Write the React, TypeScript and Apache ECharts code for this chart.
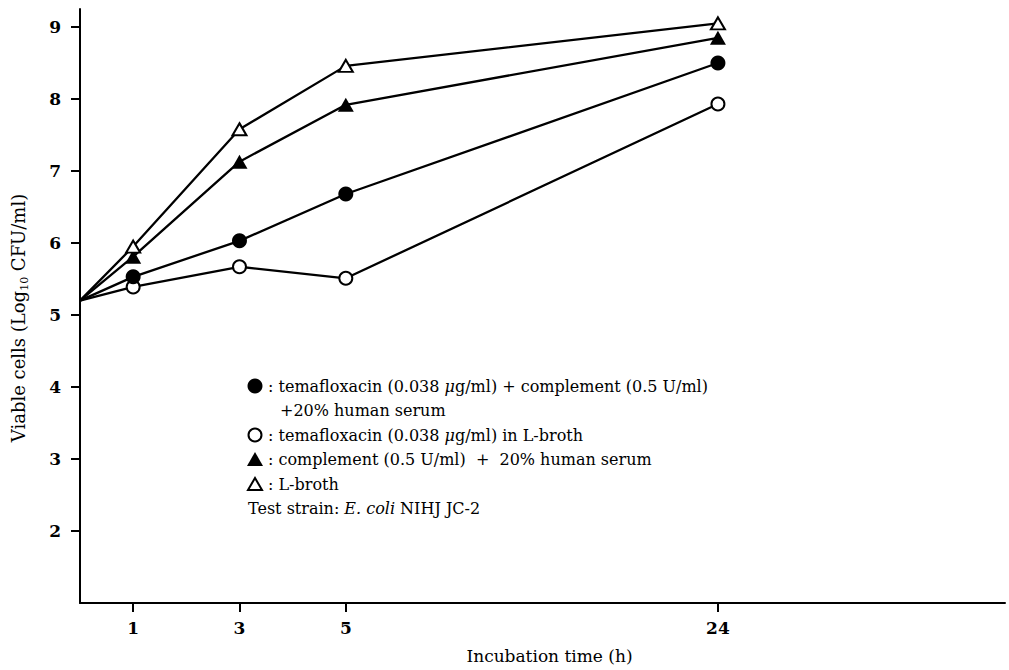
import React, { useEffect, useRef } from "react";
import * as echarts from "echarts";

// Sampling times (h) and viable-cell counts (log10 CFU/ml)
const hours = [0, 1, 3, 5, 24];
const temaComplement = [5.2, 5.53, 6.03, 6.68, 8.5];
const temaBroth = [5.2, 5.39, 5.67, 5.51, 7.93];
const complementSerum = [5.2, 5.81, 7.13, 7.92, 8.85];
const lBroth = [5.2, 5.95, 7.58, 8.46, 9.05];

const xTickHours = [1, 3, 5, 24];
const yTicks = [2, 3, 4, 5, 6, 7, 8, 9];

// broken time scale: 0–5 h linear, beyond 5 h compressed
const BREAK_AT = 5;
const COMPRESS = 7 / 19;
const toPos = (h: number) => (h <= BREAK_AT ? h : BREAK_AT + (h - BREAK_AT) * COMPRESS);
const fromPos = (p: number) => {
  const f = xTickHours.find((h) => Math.abs(toPos(h) - p) < 1e-6);
  return f === undefined ? "" : String(f);
};

const FONT = "DejaVu Serif";

export default function App() {
  const ref = useRef<HTMLDivElement>(null);
  useEffect(() => {
    if (!ref.current) return;
    const chart = echarts.init(ref.current, undefined, { renderer: "svg" });

    const mk = (name: string, vals: number[], symbol: string, filled: boolean, size: any, z: number) => ({
      type: "line",
      name,
      z,
      data: hours.map((h, i) =>
        i === 0 ? { value: [toPos(h), vals[i]], symbol: "none" } : [toPos(h), vals[i]]
      ),
      symbol,
      symbolSize: size,
      showAllSymbol: true,
      lineStyle: { color: "#000", width: 2.3 },
      itemStyle: filled
        ? { color: "#000", borderWidth: 0 }
        : { color: "#fff", borderColor: "#000", borderWidth: 2 },
      emphasis: { disabled: true },
    });

    const txt = { fontFamily: FONT, fontSize: 16, fill: "#000" };
    const it = { it: { fontFamily: FONT, fontSize: 16, fontStyle: "italic" } };
    const lx = 268;
    const rows = [386, 410, 435, 459, 484, 508];

    chart.setOption({
      animation: false,
      grid: { left: 80, right: 4, top: 9, bottom: 67, outerBoundsMode: "none", containLabel: false },
      xAxis: {
        type: "value",
        min: 0,
        max: 17.4,
        name: "Incubation time (h)",
        nameLocation: "middle",
        nameGap: 44,
        nameTextStyle: { fontFamily: FONT, fontSize: 17, color: "#000", padding: [0, 0, 0, 14] },
        axisLine: { show: true, lineStyle: { color: "#000", width: 2 } },
        axisTick: { show: true, length: 9, lineStyle: { color: "#000", width: 2 }, customValues: xTickHours.map(toPos) },
        axisLabel: {
          customValues: xTickHours.map(toPos),
          formatter: (v: number) => fromPos(v),
          fontFamily: FONT,
          fontSize: 17,
          fontWeight: "bold",
          color: "#000",
          margin: 16,
        },
        splitLine: { show: false },
      },
      yAxis: {
        type: "value",
        min: 1,
        max: 9.25,
        interval: 1,
        name: "Viable cells (Log{sub|10} CFU/ml)",
        nameLocation: "middle",
        nameGap: 50,
        nameTextStyle: {
          fontFamily: FONT,
          fontSize: 18,
          color: "#000",
          lineHeight: 24,
          padding: [0, 24, 0, 0],
          rich: { sub: { fontFamily: FONT, fontSize: 11, verticalAlign: "bottom", lineHeight: 24, color: "#000" } },
        },
        axisLine: { show: true, lineStyle: { color: "#000", width: 2 } },
        axisTick: { show: true, length: 9, lineStyle: { color: "#000", width: 2 }, customValues: yTicks },
        axisLabel: {
          customValues: yTicks,
          fontFamily: FONT,
          fontSize: 17,
          fontWeight: "bold",
          color: "#000",
          margin: 19,
        },
        splitLine: { show: false },
      },
      series: [
        mk("temafloxacin + complement + 20% human serum", temaComplement, "circle", true, 15, 4),
        mk("temafloxacin in L-broth", temaBroth, "circle", false, 13, 3),
        mk("complement + 20% human serum", complementSerum, "triangle", true, [16, 14], 5),
        mk("L-broth", lBroth, "triangle", false, [14, 12], 6),
      ],
      graphic: [
        { type: "circle", shape: { cx: 255, cy: rows[0], r: 7.5 }, style: { fill: "#000" } },
        {
          type: "text", x: lx, y: rows[0],
          style: { ...txt, text: ": temafloxacin (0.038 {it|μ}g/ml) + complement (0.5 U/ml)", verticalAlign: "middle", rich: it },
        },
        { type: "text", x: 280, y: rows[1], style: { ...txt, text: "+20% human serum", verticalAlign: "middle" } },
        { type: "circle", shape: { cx: 255, cy: rows[2], r: 6.5 }, style: { fill: "#fff", stroke: "#000", lineWidth: 2 } },
        {
          type: "text", x: lx, y: rows[2],
          style: { ...txt, text: ": temafloxacin (0.038 {it|μ}g/ml) in L-broth", verticalAlign: "middle", rich: it },
        },
        { type: "polygon", shape: { points: [[247, rows[3] + 7], [263, rows[3] + 7], [255, rows[3] - 7]] }, style: { fill: "#000" } },
        { type: "text", x: lx, y: rows[3], style: { ...txt, text: ": complement (0.5 U/ml)  +  20% human serum", verticalAlign: "middle" } },
        { type: "polygon", shape: { points: [[248, rows[4] + 6], [262, rows[4] + 6], [255, rows[4] - 6]] }, style: { fill: "#fff", stroke: "#000", lineWidth: 2 } },
        { type: "text", x: lx, y: rows[4], style: { ...txt, text: ": L-broth", verticalAlign: "middle" } },
        {
          type: "text", x: 248, y: rows[5],
          style: { ...txt, text: "Test strain: {it|E. coli} NIHJ JC-2", verticalAlign: "middle", rich: it },
        },
      ],
    });
    return () => chart.dispose();
  }, []);
  return <div ref={ref} style={{ width: 1009, height: 670, position: "absolute", left: 0, top: 0 }} />;
}
